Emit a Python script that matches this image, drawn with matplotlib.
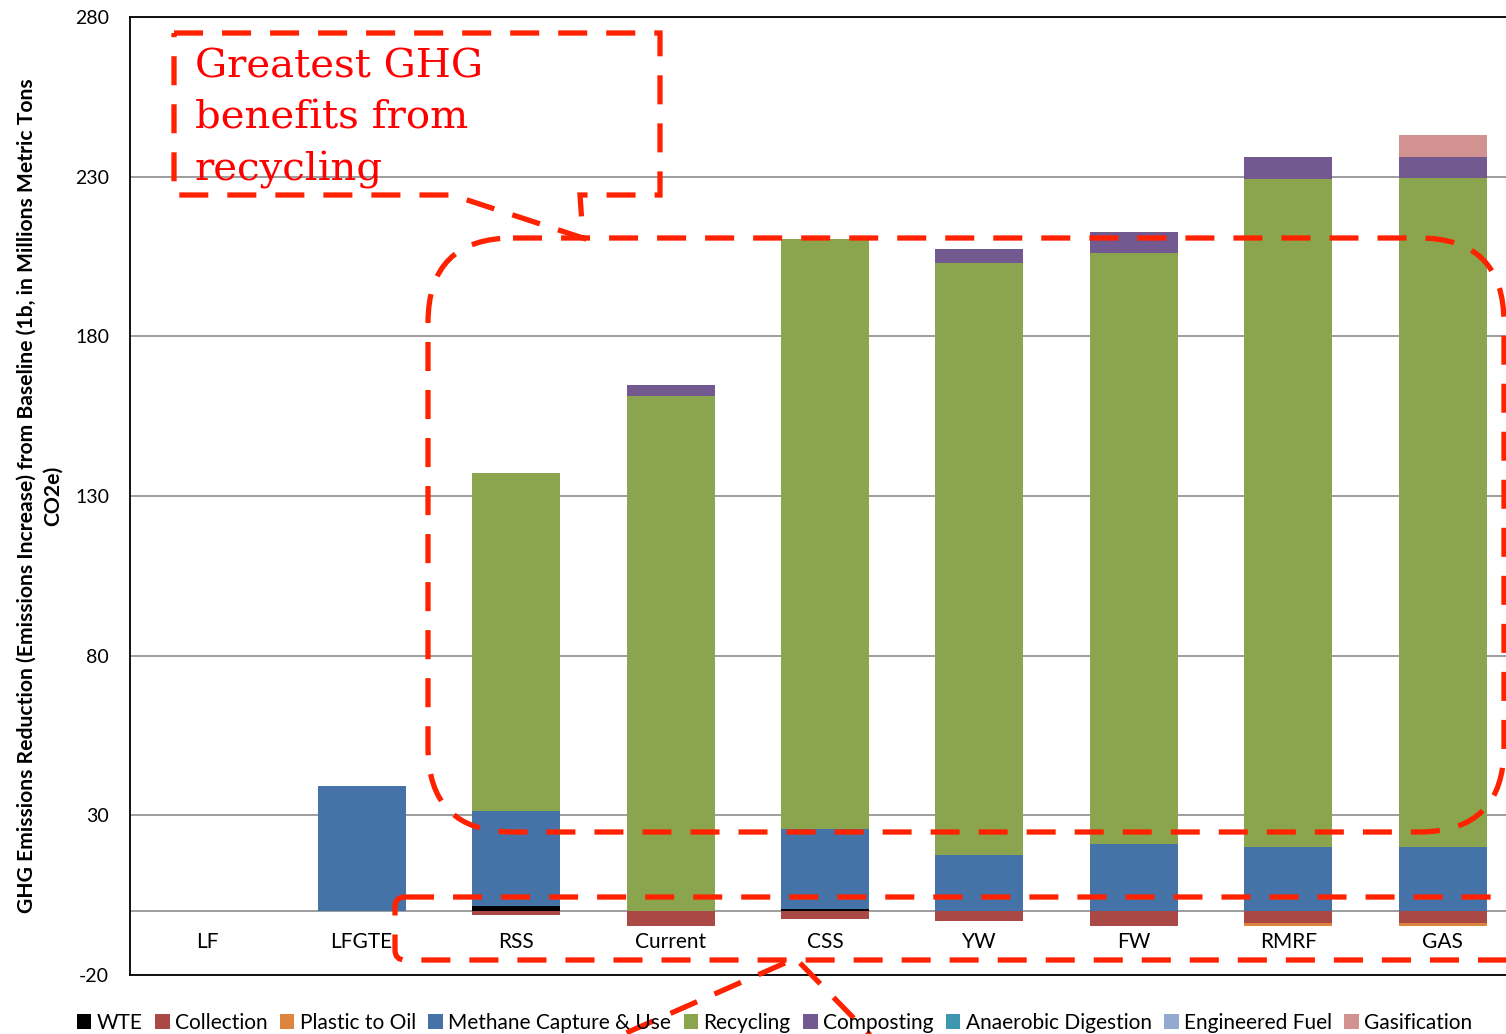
import matplotlib
matplotlib.use("Agg")
import matplotlib.pyplot as plt
from matplotlib.patches import Patch, FancyBboxPatch, Polygon
import numpy as np

plt.rcParams['font.family'] = ['Lato', 'DejaVu Sans']
plt.rcParams['axes.unicode_minus'] = False

categories = ["LF", "LFGTE", "RSS", "Current", "CSS", "YW", "FW", "RMRF", "GAS"]
wte = [0, 0, 1.5, 0, 0.8, 0, 0, 0, 0]
collection = [0, 0, -1.2, -4.7, -2.5, -3.1, -4.7, -3.8, -3.8]
plastic_oil = [0, 0, 0, 0, 0, 0, 0, -1.0, -1.0]
methane = [0, 39.3, 30.0, 0, 25.0, 17.7, 21.1, 20.2, 20.2]
recycling = [0, 0, 105.8, 161.4, 184.8, 185.4, 185.1, 209.2, 209.5]
composting = [0, 0, 0, 3.4, 0, 4.1, 6.6, 6.9, 6.6]
anaerobic = [0, 0, 0, 0, 0, 0, 0, 0, 0]
engineered = [0, 0, 0, 0, 0, 0, 0, 0, 0]
gasification = [0, 0, 0, 0, 0, 0, 0, 0, 6.9]
yticks = [-20, 30, 80, 130, 180, 230, 280]

series = [
    ("WTE", wte, "#000000"),
    ("Collection", collection, "#AA4845"),
    ("Plastic to Oil", plastic_oil, "#DD853F"),
    ("Methane Capture & Use", methane, "#4673A7"),
    ("Recycling", recycling, "#8AA54E"),
    ("Composting", composting, "#725990"),
    ("Anaerobic Digestion", anaerobic, "#3D97AE"),
    ("Engineered Fuel", engineered, "#93A9CF"),
    ("Gasification", gasification, "#D29290"),
]

W, H = 1506, 1034
fig = plt.figure(figsize=(W / 100, H / 100), dpi=100)
ax = fig.add_axes([130 / W, (H - 975) / H, (W - 130) / W, (975 - 17) / H])

x = np.arange(len(categories))
pos = np.zeros(len(categories))
neg = np.zeros(len(categories))
for name, vals, col in series:
    v = np.array(vals, dtype=float)
    bottom = np.where(v >= 0, pos, neg)
    ax.bar(x, v, 0.57, bottom=bottom, color=col, edgecolor='none', zorder=3)
    pos += np.where(v >= 0, v, 0)
    neg += np.where(v < 0, v, 0)

ax.set_xlim(-0.5, 8.41)
ax.set_ylim(-20, 280)
ax.set_yticks(yticks)
ax.tick_params(axis='y', length=0, labelsize=14, pad=15)
ax.set_xticks([])
ax.grid(axis='y', color='#8C8C8C', linewidth=1.2, zorder=0)
ax.axhline(0, color='#8C8C8C', linewidth=1.2, zorder=2)
for s in ['left', 'top', 'bottom']:
    ax.spines[s].set_linewidth(1.3)
ax.spines['right'].set_visible(False)

for i, c in enumerate(categories):
    ax.text(i, -9.6, c, ha='center', va='center', fontsize=15)

ax.set_ylabel("GHG Emissions Reduction (Emissions Increase) from Baseline (1b, in Millions Metric Tons\nCO2e)",
              fontsize=15.2, fontweight='bold', linespacing=1.35)
ax.yaxis.set_label_coords(-0.049, 0.5)

handles = [Patch(facecolor=col, edgecolor='none') for _, _, col in series]
fig.legend(handles, [n for n, _, _ in series], loc='lower left', bbox_to_anchor=(58 / W, -0.017),
           ncol=9, frameon=False, fontsize=15, handlelength=0.7, handleheight=0.7,
           handletextpad=0.25, columnspacing=0.6)

# red dashed callouts drawn in pixel space
ov = fig.add_axes([0, 0, 1, 1], facecolor='none')
ov.set_xlim(0, W)
ov.set_ylim(H, 0)
ov.axis('off')
red = '#FF2200'
dash = dict(edgecolor=red, facecolor='none', linewidth=3.8, linestyle=(0, (5.5, 3.6)), clip_on=False)

ov.add_patch(Polygon([(174, 33), (660, 33), (660, 195), (580, 195), (583, 238),
                      (452, 195), (174, 195)], closed=True, **dash))
ov.add_patch(FancyBboxPatch((428, 238), 1076, 594, boxstyle="round,pad=0,rounding_size=85", **dash))
ov.add_patch(FancyBboxPatch((395, 897), 1140, 63, boxstyle="round,pad=0,rounding_size=10", **dash))
ov.plot([785, 610], [963, 1040], color=red, linewidth=3.8, linestyle=(0, (5.5, 3.6)), clip_on=False)
ov.plot([800, 875], [963, 1040], color=red, linewidth=3.8, linestyle=(0, (5.5, 3.6)), clip_on=False)

ov.text(195, 49, "Greatest GHG\nbenefits from\nrecycling", color='#FF0000', fontsize=29,
        family='DejaVu Serif', va='top', ha='left', linespacing=1.48)

fig.savefig("out.png", dpi=100)
